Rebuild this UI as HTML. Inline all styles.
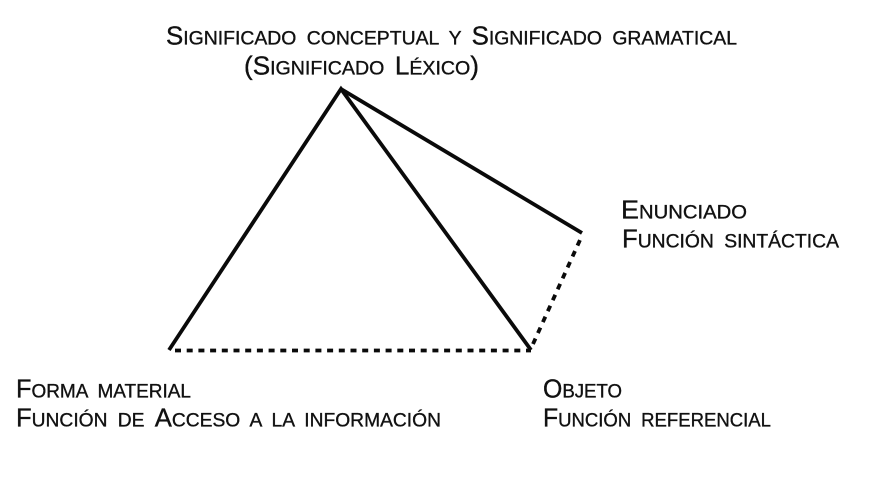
<!DOCTYPE html>
<html><head><meta charset="utf-8"><style>
html,body{margin:0;padding:0;background:#fff;width:880px;height:483px;overflow:hidden}
svg{display:block}
text{font-family:"Liberation Sans",sans-serif;font-size:26px;fill:#111;stroke:#111;stroke-width:.35px;text-transform:uppercase;word-spacing:5px}
tspan{font-size:19.500px}
</style></head><body>
<svg width="880" height="483" viewBox="0 0 880 483" xmlns="http://www.w3.org/2000/svg">
<rect width="880" height="483" fill="#fff"/>
<g fill="none" stroke="#0a0a0a" stroke-width="3.800">
<path d="M169 350 L341 89 L531 350" stroke-linejoin="miter"/>
<path d="M341 89 L582 233"/>
<path d="M175 350.500 H531" stroke-dasharray="6 5.700"/>
<path d="M533 344 L580 240" stroke-dasharray="6 6"/>
</g>
<text x="166" y="44.500" textLength="571" lengthAdjust="spacingAndGlyphs">S<tspan>ignificado conceptual y </tspan>S<tspan>ignificado gramatical</tspan></text>
<text x="244" y="74.500" textLength="235" lengthAdjust="spacingAndGlyphs">(S<tspan>ignificado </tspan>L<tspan>éxico</tspan>)</text>
<text x="621" y="218.500" textLength="126" lengthAdjust="spacingAndGlyphs">E<tspan>nunciado</tspan></text>
<text x="622" y="247.500" textLength="217" lengthAdjust="spacingAndGlyphs">F<tspan>unción sintáctica</tspan></text>
<text x="16" y="397.500" textLength="175" lengthAdjust="spacingAndGlyphs">F<tspan>orma material</tspan></text>
<text x="16" y="426.500" textLength="425" lengthAdjust="spacingAndGlyphs">F<tspan>unción de </tspan>A<tspan>cceso a la información</tspan></text>
<text x="543" y="397.500" textLength="79" lengthAdjust="spacingAndGlyphs">O<tspan>bjeto</tspan></text>
<text x="543" y="426.500" textLength="228" lengthAdjust="spacingAndGlyphs">F<tspan>unción referencial</tspan></text>
</svg>
</body></html>
